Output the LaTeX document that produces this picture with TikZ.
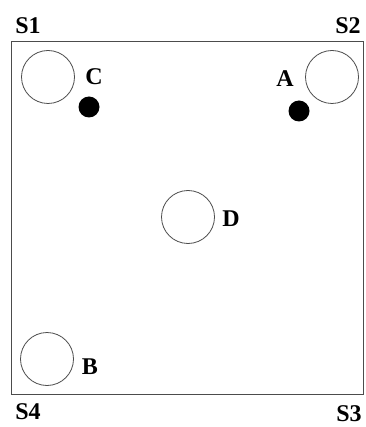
\documentclass[tikz,border=0pt]{standalone}
\usepackage{fontspec}
\setmainfont{Liberation Serif}
\begin{document}
\begin{tikzpicture}[x=1pt,y=-1pt,
  ring/.style={circle,draw=black!70,line width=0.8pt,minimum size=53pt,inner sep=0pt},
  dot/.style={circle,fill=black,minimum size=21pt,inner sep=0pt},
  lab/.style={font=\bfseries\fontsize{24}{24}\selectfont,inner sep=0pt}]
\useasboundingbox (0,0) rectangle (365,427);
\draw[black!70,line width=0.8pt] (11,41) rectangle (363,394);
\node[ring] (c1) at (48,77) {};
\node[ring] (c2) at (332,77) {};
\node[ring] (c3) at (188,217) {};
\node[ring] (c4) at (47,359) {};
\node[dot] (dc) at (89,107) {};
\node[dot] (da) at (299,111) {};
\node[lab] (lC) at (94,77) {C};
\node[lab] (lA) at (285,79) {A};
\node[lab] (lD) at (231,219) {D};
\node[lab] (lB) at (90,367) {B};
\node[lab] (s1) at (28,26) {S1};
\node[lab] (s2) at (348,26) {S2};
\node[lab] (s4) at (28,412) {S4};
\node[lab] (s3) at (349,414) {S3};
\end{tikzpicture}
\end{document}
